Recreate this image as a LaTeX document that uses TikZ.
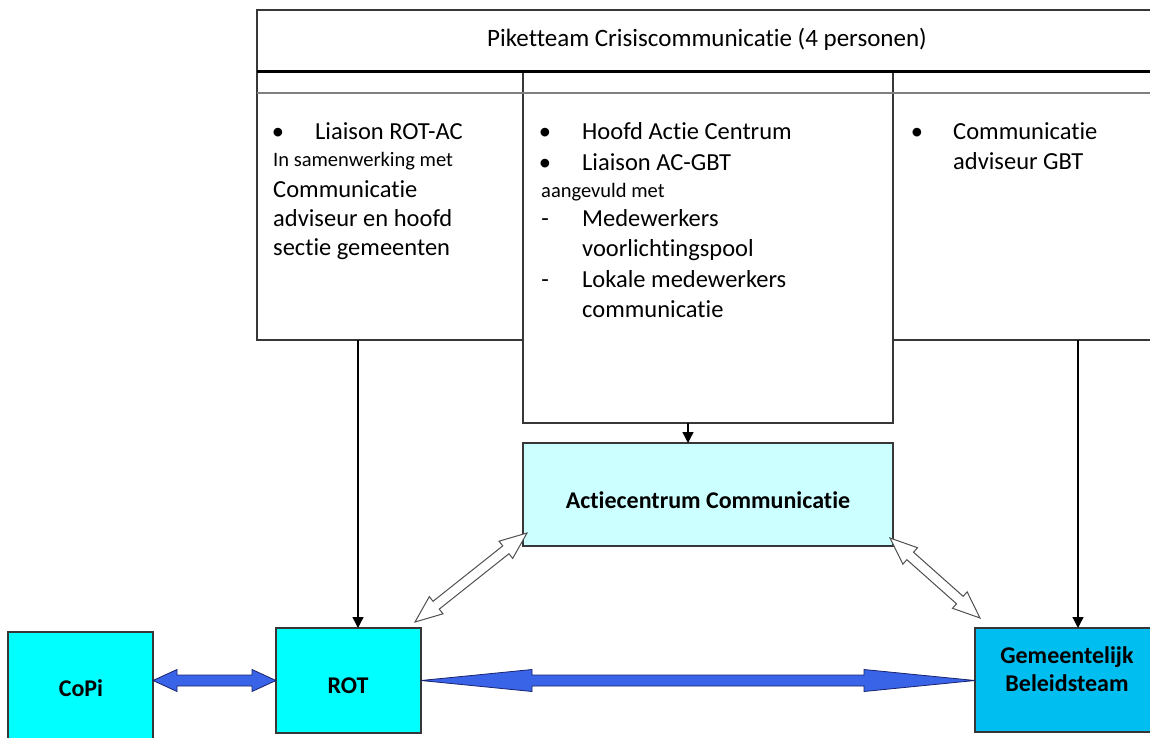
\documentclass[tikz,border=0pt]{standalone}
\usepackage{fontspec}
\setmainfont{Carlito}[Ligatures={NoCommon,NoContextual}]
\usetikzlibrary{calc,arrows.meta}
\definecolor{linec}{RGB}{55,55,55}
\definecolor{cyanbox}{RGB}{0,255,255}
\definecolor{acfill}{RGB}{204,255,255}
\definecolor{gbtfill}{RGB}{0,190,240}
\definecolor{arrowblue}{RGB}{58,100,232}
\definecolor{arrowedge}{RGB}{25,35,110}
\definecolor{hollowedge}{RGB}{80,80,80}
\newcommand\dblArrowShape[6]{%
  \path ($(#1)!#3!(#2)$) coordinate (hA) ($(#2)!#3!(#1)$) coordinate (hB);
  \draw[#6] (#1) -- ($(hA)!#4!90:(#2)$) -- ($(hA)!#5!90:(#2)$) -- ($(hB)!#5!-90:(#1)$)
    -- ($(hB)!#4!-90:(#1)$) -- (#2) -- ($(hB)!#4!90:(#1)$) -- ($(hB)!#5!90:(#1)$)
    -- ($(hA)!#5!-90:(#2)$) -- ($(hA)!#4!-90:(#2)$) -- cycle;
}
\tikzset{
  outline/.style={draw=linec, line width=1.3pt},
  colbox/.style={outline, fill=white, rectangle, anchor=north west, inner sep=0pt, outer sep=0pt},
  unitbox/.style={outline, rectangle, anchor=north west, inner sep=0pt, outer sep=0pt},
  big/.style={font=\fontsize{24.5}{29}\selectfont, inner sep=0pt, anchor=base west},
  small/.style={font=\fontsize{20.5}{24}\selectfont, inner sep=0pt, anchor=base west},
  bulletmark/.style={font=\fontsize{24.5}{29}\selectfont, inner sep=0pt, anchor=base},
  titlefont/.style={font=\fontsize{25}{30}\selectfont, inner sep=0pt, anchor=base},
  boxlabel/.style={font=\fontsize{24}{29}\selectfont\bfseries, inner sep=0pt, anchor=base},
  conn/.style={draw=black, line width=1.3pt, -{Triangle[width=11pt,length=11pt]}},
  hollow/.style={fill=white, draw=hollowedge, line width=1pt, line join=miter},
  bluearrow/.style={fill=arrowblue, draw=arrowedge, line width=0.8pt, line join=miter}
}
\begin{document}
\begin{tikzpicture}[x=1pt,y=-1pt]
\clip (0,0) rectangle (1150,738);
\fill[white] (0,0) rectangle (1150,738);

% header and columns
\node[colbox, minimum width=903pt, minimum height=62pt] (head) at (257,10) {};
\node[colbox, minimum width=266pt, minimum height=268pt] (colL) at (257,72) {};
\node[colbox, minimum width=370pt, minimum height=351pt] (colM) at (523,72) {};
\node[colbox, minimum width=267pt, minimum height=268pt] (colR) at (893,72) {};
\draw[black, line width=3pt] (head.south west) -- (head.south east);
\draw[gray, line width=2.5pt] ($(head.south west)+(0,21)$) -- ($(head.south east)+(0,21)$);

\node[titlefont] (title) at (707,47) {Piketteam Crisiscommunicatie (4 personen)};

% left column text
\node[bulletmark] (bL1) at (278,140) {•};
\node[big] (tL1) at (315,140) {Liaison ROT-AC};
\node[small] (tL2) at (273,167) {In samenwerking met};
\node[big] (tL3) at (273,197) {Communicatie};
\node[big] (tL4) at (273,226) {adviseur en hoofd};
\node[big] (tL5) at (273,255) {sectie gemeenten};

% middle column text
\node[bulletmark] (bM1) at (545,140) {•};
\node[big] (tM1) at (582,140) {Hoofd Actie Centrum};
\node[bulletmark] (bM2) at (545,171) {•};
\node[big] (tM2) at (582,171) {Liaison AC-GBT};
\node[small] (tM3) at (541,197) {aangevuld met};
\node[bulletmark] (dM1) at (545,226) {-};
\node[big] (tM4) at (582,226) {Medewerkers};
\node[big] (tM5) at (582,256) {voorlichtingspool};
\node[bulletmark] (dM2) at (545,287) {-};
\node[big] (tM6) at (582,287) {Lokale medewerkers};
\node[big] (tM7) at (582,317) {communicatie};

% right column text
\node[bulletmark] (bR1) at (917,140) {•};
\node[big] (tR1) at (953,140) {Communicatie};
\node[big] (tR2) at (953,170) {adviseur GBT};

% unit boxes
\node[unitbox, fill=acfill, minimum width=370pt, minimum height=103pt] (ac) at (523,443) {};
\node[boxlabel] (acl) at (708,508) {Actiecentrum Communicatie};
\node[unitbox, fill=cyanbox, minimum width=145pt, minimum height=105pt] (rot) at (276,628) {};
\node[boxlabel] (rotl) at (348,693) {ROT};
\node[unitbox, fill=cyanbox, minimum width=145pt, minimum height=113pt] (copi) at (8,632) {};
\node[boxlabel] (copil) at (81,696) {CoPi};
\node[unitbox, fill=gbtfill, minimum width=185pt, minimum height=104pt] (gbt) at (975,628) {};
\node[boxlabel] (gbtl1) at (1067,663) {Gemeentelijk};
\node[boxlabel] (gbtl2) at (1067,691) {Beleidsteam};

% vertical connectors
\coordinate (xL) at (358,0);
\coordinate (xM) at (688,0);
\coordinate (xR) at (1078,0);
\draw[conn] (colL.south -| xL) -- (rot.north -| xL);
\draw[conn] (colM.south -| xM) -- (ac.north -| xM);
\draw[conn] (colR.south -| xR) -- (gbt.north -| xR);

% hollow double arrows
\coordinate (w1s) at ($(rot.north east)+(-6,-6)$);
\coordinate (w1e) at ($(ac.south west)+(4,-13)$);
\coordinate (w2s) at ($(ac.south east)+(-3,-8)$);
\coordinate (w2e) at ($(gbt.north west)+(5,-10)$);
\dblArrowShape{w1s}{w1e}{27pt}{11pt}{5pt}{hollow}
\dblArrowShape{w2s}{w2e}{27pt}{11pt}{5pt}{hollow}

% blue double arrows
\coordinate (b1s) at (copi.east |- rot.east);
\coordinate (b2e) at (gbt.west |- rot.east);
\dblArrowShape{b1s}{rot.west}{24pt}{11pt}{5.5pt}{bluearrow}
\dblArrowShape{rot.east}{b2e}{111pt}{11pt}{5.5pt}{bluearrow}
\end{tikzpicture}
\end{document}
